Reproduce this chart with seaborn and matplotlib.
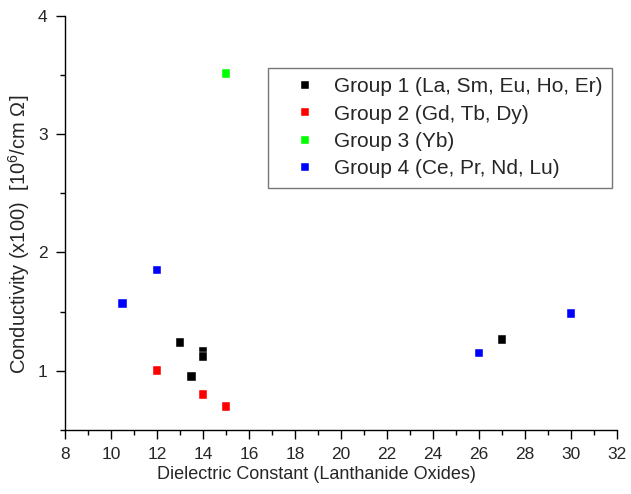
import matplotlib
matplotlib.use("Agg")
import matplotlib.pyplot as plt
from matplotlib.ticker import MultipleLocator
import pandas as pd
import seaborn as sns

# values
groups = [
    "Group 1 (La, Sm, Eu, Ho, Er)",
    "Group 2 (Gd, Tb, Dy)",
    "Group 3 (Yb)",
    "Group 4 (Ce, Pr, Nd, Lu)",
]
colors = ["#000000", "#ff0000", "#00ff00", "#0000ff"]

g1_x = [13.0, 14.0, 14.0, 13.5, 27.0]
g1_y = [1.24, 1.16, 1.12, 0.95, 1.26]
g2_x = [12.0, 14.0, 15.0]
g2_y = [1.00, 0.80, 0.70]
g3_x = [15.0]
g3_y = [3.51]
g4_x = [10.5, 12.0, 26.0, 30.0]
g4_y = [1.57, 1.85, 1.15, 1.48]

xs = [g1_x, g2_x, g3_x, g4_x]
ys = [g1_y, g2_y, g3_y, g4_y]
df = pd.concat(
    [pd.DataFrame({"x": x, "y": y, "group": g}) for x, y, g in zip(xs, ys, groups)],
    ignore_index=True,
)

sns.set_style("ticks")
plt.rcParams["font.family"] = ["Liberation Sans", "DejaVu Sans"]
plt.rcParams["mathtext.fontset"] = "custom"
plt.rcParams["mathtext.rm"] = "Liberation Sans"

fig = plt.figure(figsize=(6.31, 4.94), dpi=100)
ax = fig.add_axes([0.103, 0.130, 0.875, 0.838])

sns.scatterplot(
    data=df, x="x", y="y", hue="group", hue_order=groups,
    palette=colors, marker="s", s=40, linewidth=0.3, edgecolor="white", ax=ax,
)

ax.set_xlim(8, 32)
ax.set_ylim(0.5, 4)
ax.xaxis.set_major_locator(MultipleLocator(2))
ax.xaxis.set_minor_locator(MultipleLocator(1))
ax.yaxis.set_major_locator(MultipleLocator(1))
ax.yaxis.set_minor_locator(MultipleLocator(0.5))
ax.tick_params(which="major", length=6.5, width=1, labelsize=12.5, color="black", pad=6)
ax.tick_params(which="minor", length=3.5, width=1, color="black")
for s in ["top", "right"]:
    ax.spines[s].set_visible(False)
for s in ["left", "bottom"]:
    ax.spines[s].set_color("black")
    ax.spines[s].set_linewidth(1)

ax.set_xlabel("Dielectric Constant (Lanthanide Oxides)", fontsize=13)
ax.set_ylabel(r"Conductivity (x100)  [10$^{\mathrm{6}}$/cm $\mathrm{\Omega}$]", fontsize=14.5)
ax.xaxis.set_label_coords(0.455, -0.088)
ax.yaxis.set_label_coords(-0.06, 0.473)

leg = ax.legend(
    loc="upper left", bbox_to_anchor=(0.368, 0.874), fontsize=15,
    frameon=True, fancybox=False, edgecolor="#555555", markerscale=1.0,
    handletextpad=0.1, borderpad=0.45, labelspacing=0.4, handlelength=2.6,
    borderaxespad=0,
)
leg.get_frame().set_linewidth(1)

fig.savefig("out.png", dpi=100)
